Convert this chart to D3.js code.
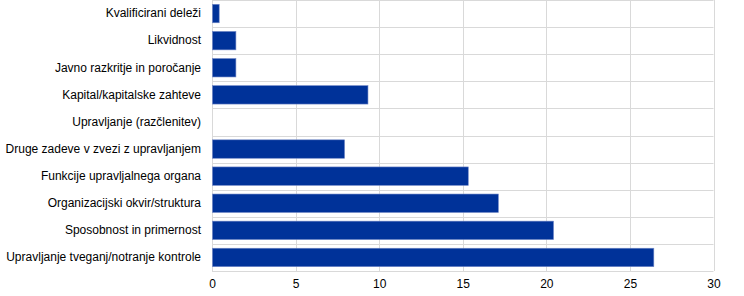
<!DOCTYPE html>
<html>
<head>
<meta charset="utf-8">
<script src="https://cdn.jsdelivr.net/npm/d3@7"></script>
<style>
  body { margin: 0; background: #fff; }
  svg { font-family: "Liberation Sans", Arial, sans-serif; }
  .grid line { stroke: #d9d9d9; stroke-width: 1; }
  .tick text { fill: #000; font-size: 12px; }
</style>
</head>
<body>
<svg id="chart" width="744" height="296"></svg>
<script>
const categories = [
    "Kvalificirani deleži",
    "Likvidnost",
    "Javno razkritje in poročanje",
    "Kapital/kapitalske zahteve",
    "Upravljanje (razčlenitev)",
    "Druge zadeve v zvezi z upravljanjem",
    "Funkcije upravljalnega organa",
    "Organizacijski okvir/struktura",
    "Sposobnost in primernost",
    "Upravljanje tveganj/notranje kontrole"
];
const values = [0.4, 1.4, 1.4, 9.3, 0, 7.9, 15.3, 17.1, 20.4, 26.4];
const xTicks = [0, 5, 10, 15, 20, 25, 30];

const margin = { left: 212, right: 30, top: 0, bottom: 25 };
const svg = d3.select("#chart");
const width = 744 - margin.left - margin.right;
const height = 296 - margin.top - margin.bottom;

const chart = svg.append("g")
    .attr("transform", "translate(" + margin.left + "," + margin.top + ")");

const xScale = d3.scaleLinear().domain([0, 30]).range([0, 501.5]);
const yScale = d3.scaleBand().domain(categories).range([0, 271]).paddingInner(0.32).paddingOuter(0.16);

// horizontal grid lines at band boundaries
const step = yScale.step();
const bounds = d3.range(categories.length + 1).map(i => yScale.range()[0] + i * step);
chart.append("g").attr("class", "grid")
    .selectAll("line.h").data(bounds).join("line")
    .attr("x1", 0).attr("x2", xScale(30))
    .attr("y1", d => Math.round(d) + 0.5).attr("y2", d => Math.round(d) + 0.5);

// vertical grid lines
chart.append("g").attr("class", "grid")
    .selectAll("line.v").data(xTicks).join("line")
    .attr("x1", d => Math.round(xScale(d)) + 0.5).attr("x2", d => Math.round(xScale(d)) + 0.5)
    .attr("y1", 0).attr("y2", 271);

chart.selectAll("rect.bar")
    .data(values)
    .join("rect")
    .attr("class", "bar")
    .attr("x", xScale(0) + 0.5)
    .attr("y", (d, i) => yScale(categories[i]))
    .attr("width", d => Math.max(0, xScale(d) - xScale(0)))
    .attr("height", yScale.bandwidth())
    .attr("fill", "#003299")
    .attr("stroke", d => d > 0 ? "#6f86c6" : "none")
    .attr("stroke-width", 0.6);

// x axis
const xAxis = chart.append("g")
    .attr("transform", "translate(0,271)")
    .call(d3.axisBottom(xScale).tickValues(xTicks).tickSize(0).tickPadding(8));
xAxis.select(".domain").remove();

// y axis labels
const yAxis = chart.append("g")
    .call(d3.axisLeft(yScale).tickSize(0).tickPadding(11));
yAxis.select(".domain").remove();
</script>
</body>
</html>
